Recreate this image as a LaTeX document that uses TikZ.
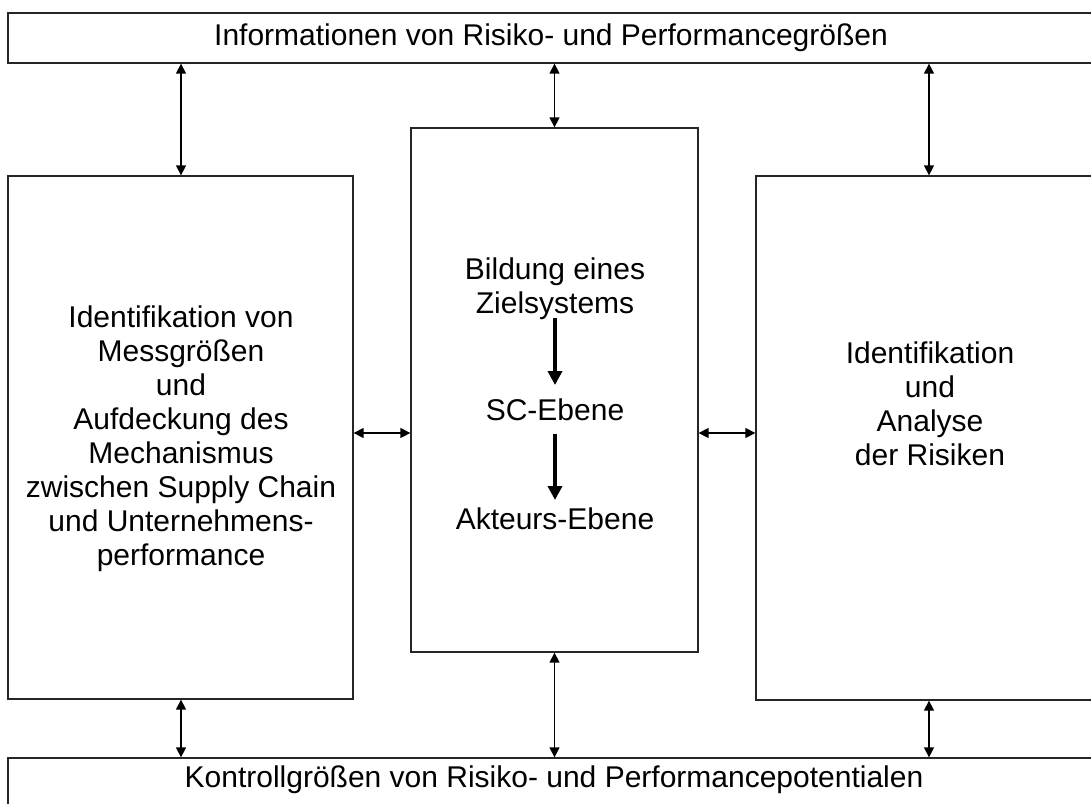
\documentclass[tikz,border=0pt]{standalone}
\usepackage{fontspec}
\setmainfont{Liberation Sans}
\usetikzlibrary{arrows.meta}
\begin{document}
\begin{tikzpicture}[x=1pt,y=-1pt,
  panel/.style={draw=black!85,line width=1.3pt,inner sep=0pt,fill=none},
  label/.style={align=center,inner sep=0pt,font=\fontsize{30}{34}\selectfont},
  link/.style={line width=1.4pt,{Triangle[length=10pt,width=10pt]}-{Triangle[length=10pt,width=10pt]}},
  flow/.style={line width=4pt,-{Triangle[length=14pt,width=14pt]}}]
\useasboundingbox (0,0) rectangle (1091,803);
\fill[white] (0,0) rectangle (1091,803);
\clip (0,0) rectangle (1091,803);

% frame boxes
\node[panel,minimum width=1092pt,minimum height=50pt] (top) at (554,38) {};
\node[panel,minimum width=1092pt,minimum height=52pt] (bot) at (554,784) {};
\node[panel,minimum width=345pt,minimum height=523pt] (lbox) at (180.5,437.5) {};
\node[panel,minimum width=287pt,minimum height=524pt] (cbox) at (554.5,390) {};
\node[panel,minimum width=348pt,minimum height=524pt] (rbox) at (930,438) {};

% texts
\node[label] (ttop) at (551,38) {Informationen von Risiko- und Performancegrößen};
\node[label] (tbot) at (554,780) {Kontrollgrößen von Risiko- und Performancepotentialen};
\node[label] (tleft) at (181,439) {Identifikation von\\Messgrößen\\und\\Aufdeckung des\\Mechanismus\\zwischen Supply Chain\\und Unternehmens-\\performance};
\node[label] (tright) at (930,404) {Identifikation\\und\\Analyse\\der Risiken};
\node[label] (goal) at (555,289) {Bildung eines\\Zielsystems};
\node[label] (sc) at (555,410) {SC-Ebene};
\node[label] (act) at (555,519) {Akteurs-Ebene};

% hierarchy arrows in the middle
\coordinate (g0) at (555,318);
\coordinate (g1) at (555,385);
\coordinate (s0) at (555,434);
\coordinate (s1) at (555,500);
\draw[flow] (g0) -- (g1);
\draw[flow] (s0) -- (s1);

% connectors
\coordinate (xl) at (181,0);
\coordinate (xr) at (929,0);
\coordinate (ym) at (0,433);
\draw[link] (top.south -| xl) -- (lbox.north -| xl);
\draw[link] (top.south -| cbox.north) -- (cbox.north);
\draw[link] (top.south -| xr) -- (rbox.north -| xr);
\draw[link] (lbox.south -| xl) -- (bot.north -| xl);
\draw[link] (cbox.south) -- (bot.north -| cbox.south);
\draw[link] (rbox.south -| xr) -- (bot.north -| xr);
\draw[link] (lbox.east |- ym) -- (cbox.west |- ym);
\draw[link] (cbox.east |- ym) -- (rbox.west |- ym);
\end{tikzpicture}
\end{document}
